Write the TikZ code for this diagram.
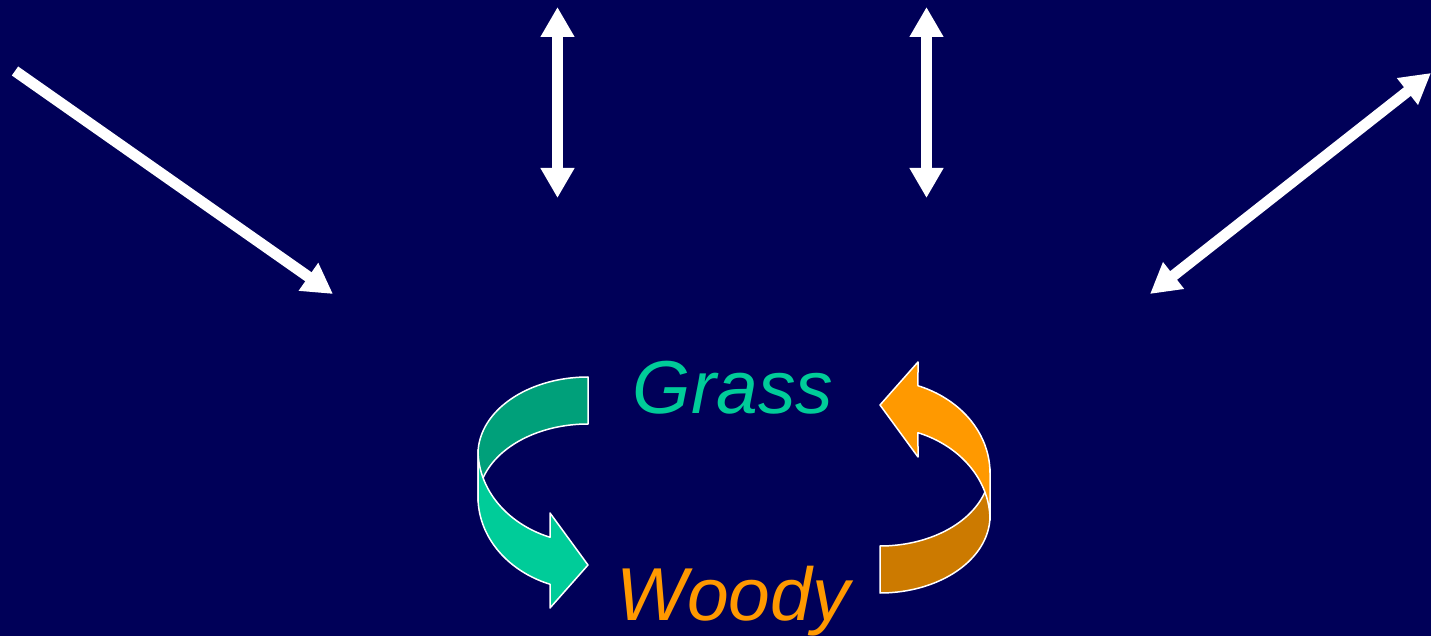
\documentclass[tikz,border=0pt]{standalone}
\usepackage{fontspec}
\setmainfont{Liberation Sans}
\usetikzlibrary{arrows.meta}
\definecolor{bgnavy}{RGB}{0,0,88}
\definecolor{grasslight}{RGB}{0,204,153}
\definecolor{grassdark}{RGB}{0,160,122}
\definecolor{woodylight}{RGB}{255,153,0}
\definecolor{woodydark}{RGB}{204,122,0}
\tikzset{
  band/.style={draw=white, line width=0.75pt, line join=round},
  onehead/.style={draw=white, line width=5.5pt, -{Triangle[length=15pt,width=16pt]}},
  twohead/.style={draw=white, line width=5.5pt, {Triangle[length=15pt,width=16pt]}-{Triangle[length=15pt,width=16pt]}},
  label/.style={font=\fontsize{37.5}{45}\selectfont\itshape, anchor=base, inner sep=0pt}
}
\newcommand\crvarrowshape[2]{%
  \filldraw[fill=#1, band] (588,377)
    -- plot[domain=270:180, samples=40] ({588+110*cos(\x)},{454+77*sin(\x)})
    -- (478,501)
    -- plot[domain=180:270, samples=40] ({588+110*cos(\x)},{501+77*sin(\x)})
    -- cycle;
  \filldraw[fill=#2, band] (478,450)
    -- plot[domain=180:110.2, samples=40] ({588+110*cos(\x)},{450+93*sin(\x)})
    -- (550,513) -- (588,565) -- (550,608)
    -- plot[domain=110.2:180, samples=40] ({588+110*cos(\x)},{497+93*sin(\x)})
    -- cycle;
}
\begin{document}
\begin{tikzpicture}[x=0.5pt, y=-0.5pt]
  \fill[bgnavy] (0,0) rectangle (1431,636);
  \useasboundingbox (0,0) rectangle (1431,636);
  % straight arrows
  \coordinate (lds) at (15,71);
  \coordinate (lde) at (333,294);
  \coordinate (v1t) at (557.5,7);
  \coordinate (v1b) at (557.5,198);
  \coordinate (v2t) at (926.5,7);
  \coordinate (v2b) at (926.5,198);
  \coordinate (rdb) at (1150,294);
  \coordinate (rdt) at (1431,73);
  \draw[onehead] (lds) -- (lde);
  \draw[twohead] (v1t) -- (v1b);
  \draw[twohead] (v2t) -- (v2b);
  \draw[twohead] (rdb) -- (rdt);
  % curved arrows
  \crvarrowshape{grassdark}{grasslight}
  \begin{scope}[rotate around={180:(734,485)}]
    \crvarrowshape{woodydark}{woodylight}
  \end{scope}
  % labels
  \node[label, text=grasslight] (grass) at (733,414) {Grass};
  \node[label, text=woodylight] (woody) at (733,620) {Woody};
\end{tikzpicture}
\end{document}
